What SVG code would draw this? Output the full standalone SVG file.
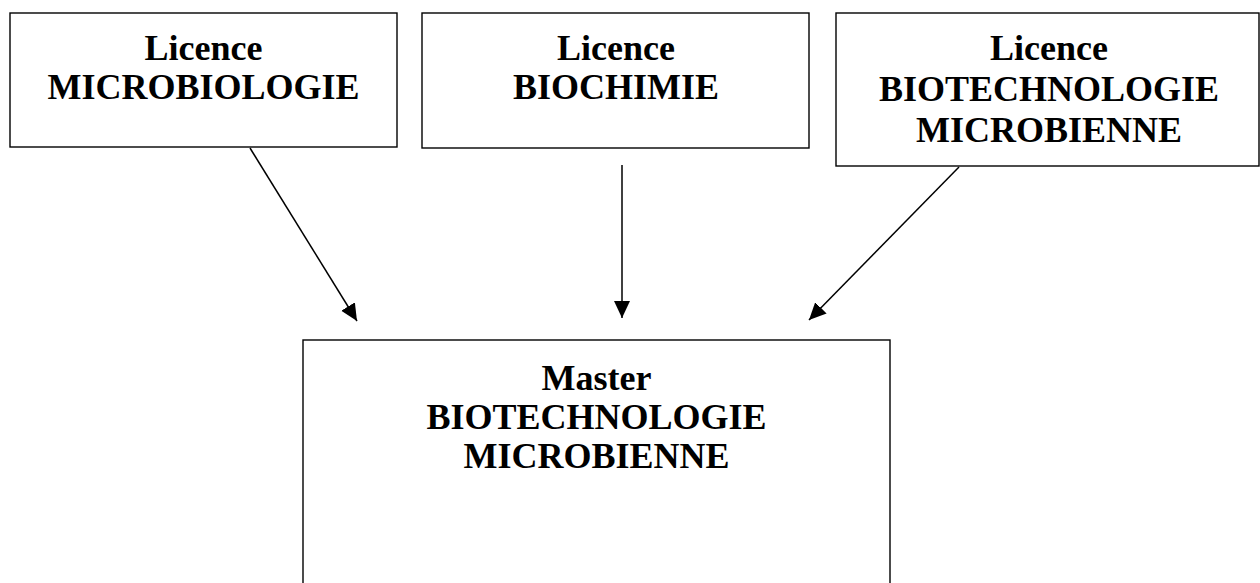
<svg xmlns="http://www.w3.org/2000/svg" width="1260" height="583" viewBox="0 0 1260 583">
<style>
.box{fill:#fff;stroke:#000;stroke-width:1.4}
.t{font-family:"Liberation Serif","Times New Roman",serif;font-weight:bold;font-size:36px;fill:#000;text-anchor:middle}
.c{stroke:#000;stroke-width:1.5;fill:none}
</style>
<defs>
<marker id="ah" markerUnits="userSpaceOnUse" markerWidth="18" markerHeight="18" refX="17" refY="8" orient="auto">
<path d="M0,0 L17,8 L0,16 Z" fill="#000"/>
</marker>
</defs>
<rect width="1260" height="583" fill="#fff"/>
<g id="n1">
<rect class="box" x="10" y="13" width="387" height="134"/>
<text class="t" x="203.5" y="60">Licence</text>
<text class="t" x="203.5" y="99">MICROBIOLOGIE</text>
</g>
<g id="n2">
<rect class="box" x="422" y="13" width="387" height="135"/>
<text class="t" x="616" y="60">Licence</text>
<text class="t" x="616" y="99">BIOCHIMIE</text>
</g>
<g id="n3">
<rect class="box" x="836" y="13" width="423" height="153"/>
<text class="t" x="1049" y="60">Licence</text>
<text class="t" x="1049" y="101">BIOTECHNOLOGIE</text>
<text class="t" x="1049" y="142">MICROBIENNE</text>
</g>
<g id="n4">
<rect class="box" x="303" y="340" width="587" height="260"/>
<text class="t" x="596.5" y="390">Master</text>
<text class="t" x="596.5" y="429">BIOTECHNOLOGIE</text>
<text class="t" x="596.5" y="468">MICROBIENNE</text>
</g>
<g id="connectors">
<line class="c" x1="250" y1="148" x2="357" y2="321" marker-end="url(#ah)"/>
<line class="c" x1="622" y1="165" x2="622" y2="318" marker-end="url(#ah)"/>
<line class="c" x1="959" y1="167" x2="809" y2="320" marker-end="url(#ah)"/>
</g>
</svg>
